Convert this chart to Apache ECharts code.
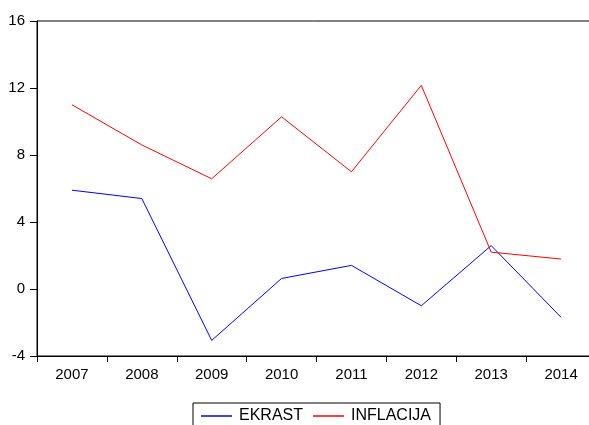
<!DOCTYPE html>
<html>
<head>
<meta charset="utf-8">
<script src="https://cdn.jsdelivr.net/npm/echarts@6/dist/echarts.min.js"></script>
<style>
html,body{margin:0;padding:0;background:#fff;}
#c{width:589px;height:425px;}
</style>
</head>
<body>
<div id="c"></div>
<script>
const years = ['2007','2008','2009','2010','2011','2012','2013','2014'];
const ekrast = [5.9, 5.4, -3.07, 0.63, 1.41, -1.0, 2.59, -1.69];
const inflacija = [11.0, 8.6, 6.58, 10.28, 7.0, 12.16, 2.2, 1.79];
const yMin = -4, yMax = 16, yStep = 4;

const chart = echarts.init(document.getElementById('c'), null, {renderer:'canvas'});
const font = '"Liberation Sans", Arial, sans-serif';
chart.setOption({
  animation: false,
  backgroundColor: '#fff',
  grid: {left: 37, top: 21, width: 559, height: 335, outerBoundsMode: 'none', containLabel: false,
         show: true, borderColor: '#000', borderWidth: 1, backgroundColor: 'transparent'},
  legend: {
    left: 193, top: 403,
    padding: [5, 9, 12, 8],
    borderColor: '#000', borderWidth: 1,
    itemWidth: 31, itemHeight: 1.5, itemGap: 10,
    icon: 'rect',
    textStyle: {fontFamily: font, fontSize: 16, color: '#000', padding: [0,0,0,2]},
    data: ['EKRAST', 'INFLACIJA']
  },
  xAxis: {
    type: 'category', data: years, boundaryGap: true,
    axisLine: {onZero: false, lineStyle: {color: '#000', width: 1}},
    axisTick: {show: true, length: 6, lineStyle: {color: '#000'}},
    axisLabel: {fontFamily: font, fontSize: 15, color: '#000', margin: 11}
  },
  yAxis: {
    type: 'value', min: yMin, max: yMax, interval: yStep,
    splitLine: {show: false},
    axisLine: {show: true, lineStyle: {color: '#000', width: 1}},
    axisTick: {show: true, length: 7, lineStyle: {color: '#000'}},
    axisLabel: {fontFamily: font, fontSize: 15, color: '#000', margin: 12}
  },
  series: [
    {name: 'EKRAST', type: 'line', data: ekrast, symbol: 'none', color: '#0000ff', lineStyle: {width: 1, color: '#0000ff'}},
    {name: 'INFLACIJA', type: 'line', data: inflacija, symbol: 'none', color: '#ff0000', lineStyle: {width: 1, color: '#ff0000'}}
  ]
});
</script>
</body>
</html>
